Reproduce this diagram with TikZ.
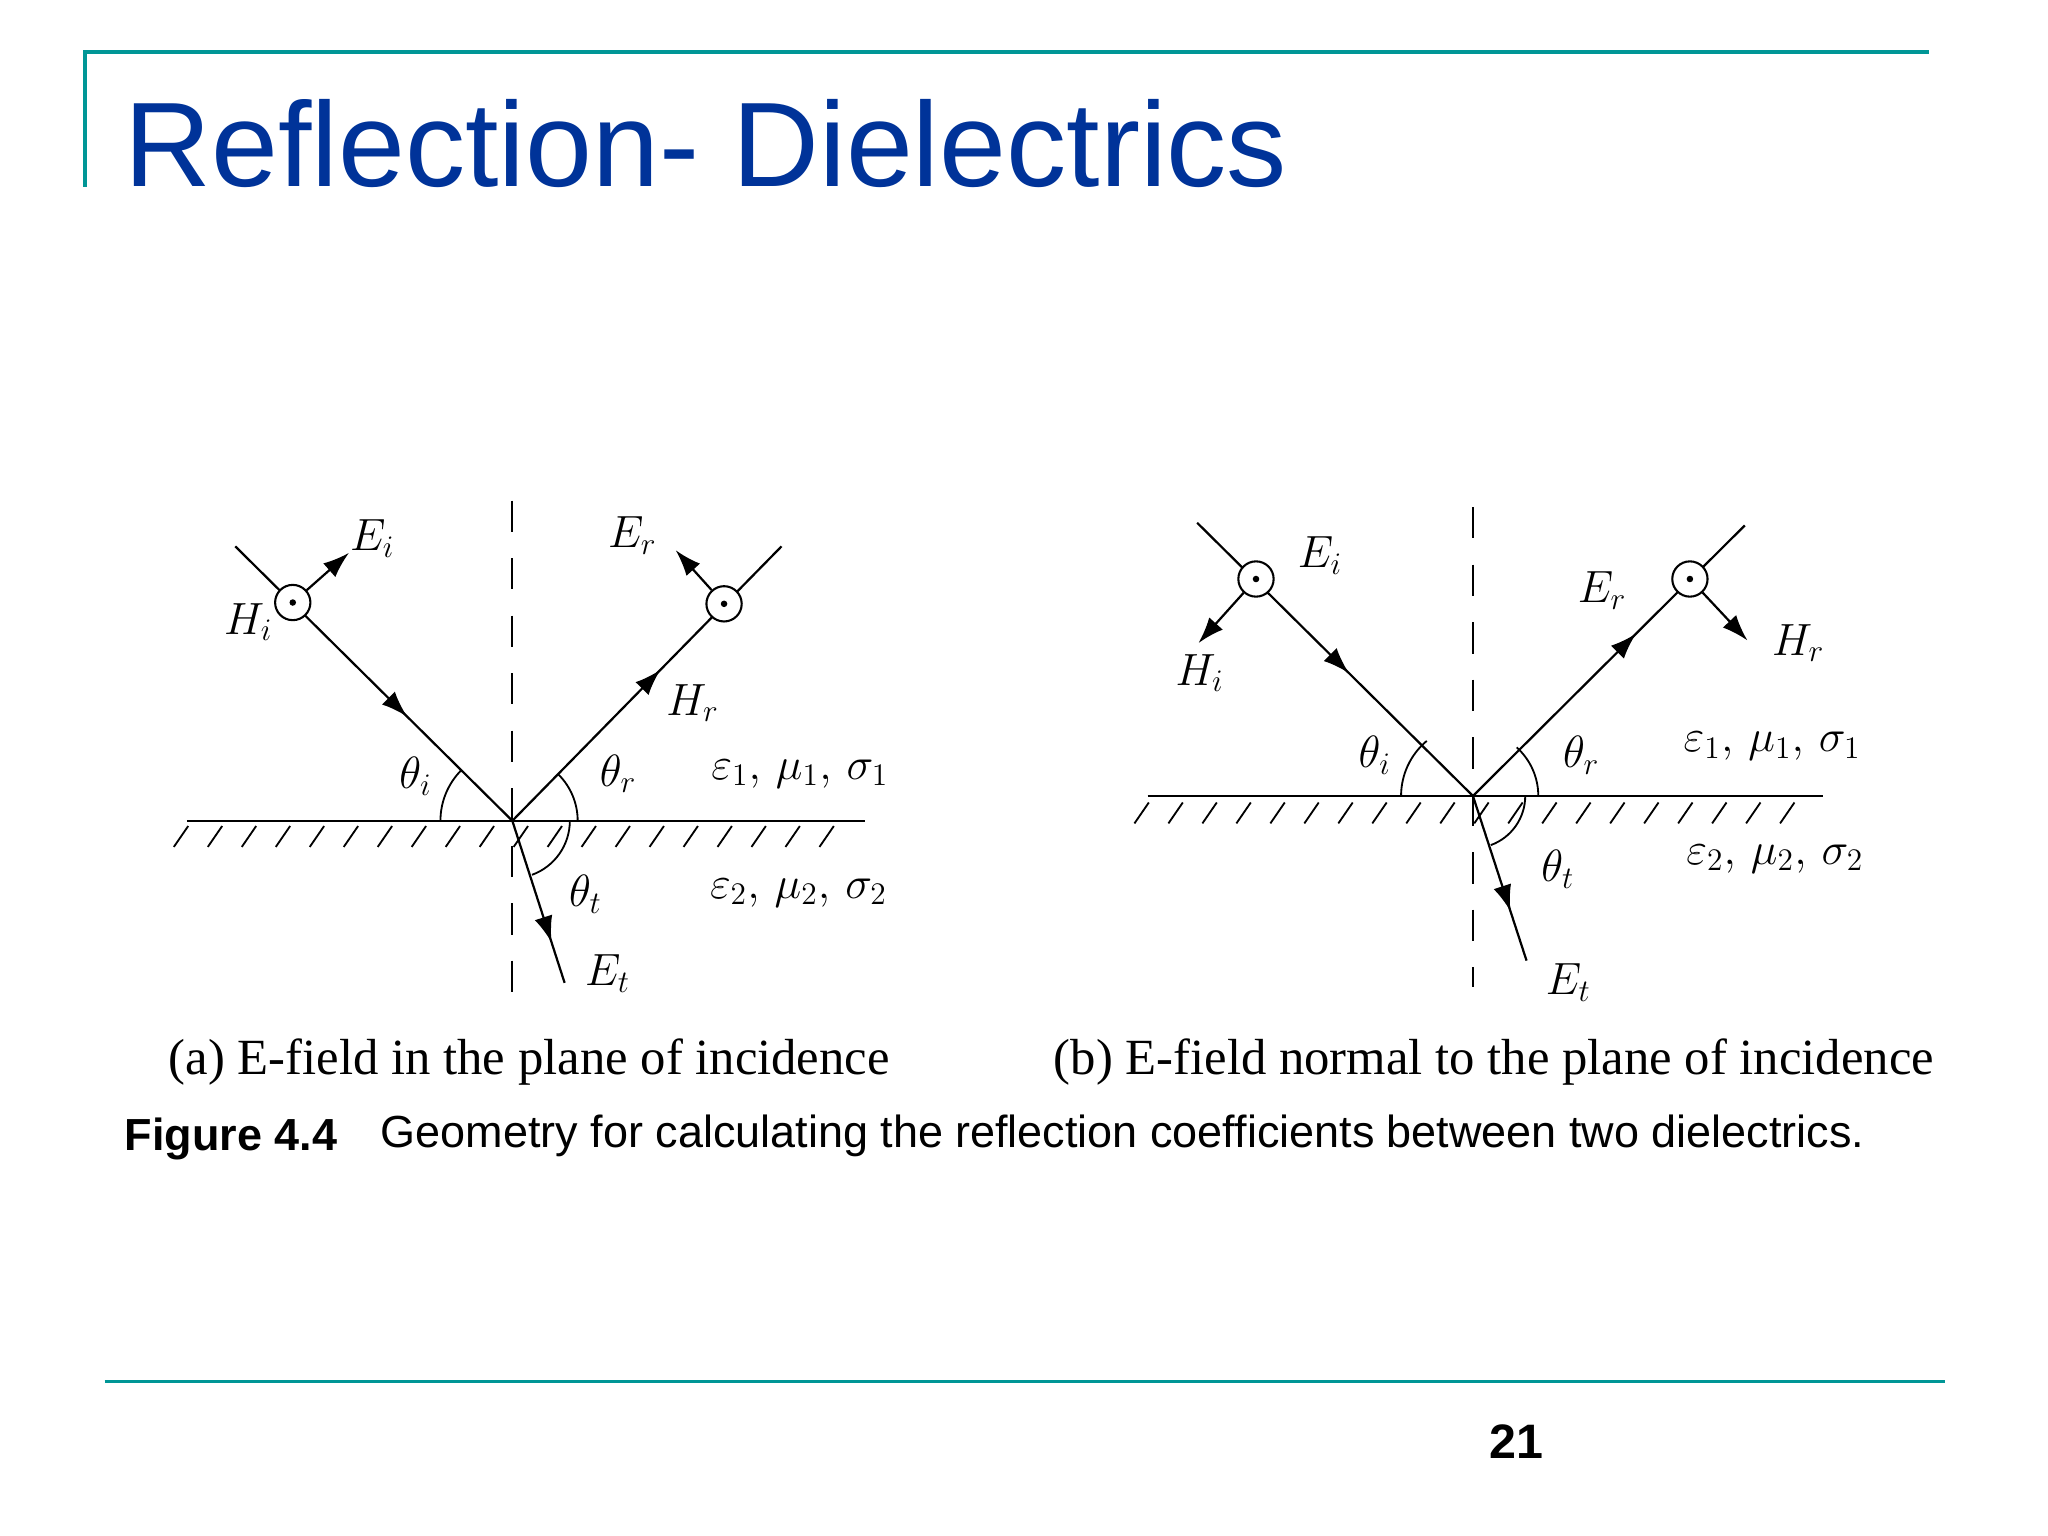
\documentclass[tikz,border=0pt]{standalone}
\usepackage{fontspec}
\setmainfont{Liberation Serif}
\setsansfont{Liberation Sans}
\usetikzlibrary{arrows.meta,decorations.markings}
\definecolor{teal1}{RGB}{0,150,150}
\definecolor{titleblue}{RGB}{0,51,153}
\tikzset{
  lab/.style={font=\fontsize{17.5}{20}\selectfont},
  ray/.style={line width=0.85pt},
  midarr/.style={postaction={decorate},decoration={markings,mark=at position #1 with {\arrow{Latex[length=10pt,width=7pt]}}}},
  fieldarr/.style={line width=0.85pt,-{Latex[length=10pt,width=7pt]}},
  dotc/.style={circle,draw,line width=0.8pt,minimum size=13.5pt,inner sep=0pt,fill=white},
  hatch/.style={line width=0.7pt},
  anglearc/.style={line width=0.7pt},
  normal/.style={dash pattern=on 12pt off 10pt,line width=0.7pt}
}
\begin{document}
\begin{tikzpicture}[x=0.5pt,y=-0.5pt]
\useasboundingbox (0,0) rectangle (1567,1175);
% frame
\draw[teal1,line width=1.5pt] (65,143) -- (65,40) -- (1476,40);
\draw[teal1,line width=1.5pt] (80,1057) -- (1488,1057);
\node[anchor=base west,inner sep=0,text=titleblue,font=\sffamily\fontsize{46}{52}\selectfont] (title) at (95,143) {Reflection- Dielectrics};
\node[anchor=base,inner sep=0,font=\sffamily\bfseries\fontsize{18.5}{22}\selectfont] (pg) at (1160,1116) {21};
\node[anchor=base,inner sep=0,font=\fontsize{19.4}{22}\selectfont] (capa) at (405,822) {(a) E-field in the plane of incidence};
\node[anchor=base,inner sep=0,font=\fontsize{19.4}{22}\selectfont] (capb) at (1143,822) {(b) E-field normal to the plane of incidence};
\node[anchor=base west,inner sep=0,font=\sffamily\bfseries\fontsize{17.2}{20}\selectfont] (figl) at (95,880) {Figure 4.4};
\node[anchor=base west,inner sep=0,font=\sffamily\fontsize{17.2}{20}\selectfont] (figt) at (291,878) {Geometry for calculating the reflection coefficients between two dielectrics.};

% ===== left diagram =====
\coordinate (OA) at (392,628);
\draw[line width=0.85pt] (143,628) -- (662,628);
\foreach \x in {133,159,...,640} \draw[hatch] (\x,648) -- (\x+11,632);
\draw[normal] (392,383) -- (392,770);
\coordinate (IA) at (180,418);
\coordinate (RA) at (598,418);
\coordinate (TA) at (432,752);
\draw[ray,midarr=0.62] (IA) -- (OA);
\draw[ray,midarr=0.55] (OA) -- (RA);
\draw[ray,midarr=0.75] (OA) -- (TA);
\node[dotc] (ca1) at (224,461) {};
\fill (ca1) circle (2.5);
\node[dotc] (ca2) at (554,462) {};
\fill (ca2) circle (2.5);
\coordinate (EiA) at (267,423);
\coordinate (ErA) at (517,421);
\draw[fieldarr] (ca1) -- (EiA);
\draw[fieldarr] (ca2) -- (ErA);
\draw[anglearc] ([shift={(180:55)}]OA) arc[start angle=180,end angle=225,radius=55];
\draw[anglearc] ([shift={(0:50)}]OA) arc[start angle=0,end angle=-45,radius=50];
\draw[anglearc] ([shift={(0:44)}]OA) arc[start angle=0,end angle=70,radius=44];
\node[lab] (tEi) at (285,412) {$E_i$};
\node[lab] (tHi) at (190,476) {$H_i$};
\node[lab] (tEr) at (484,410) {$E_r$};
\node[lab] (tHr) at (530,538) {$H_r$};
\node[lab] (tthi) at (318,594) {$\theta_i$};
\node[lab] (tthr) at (473,592) {$\theta_r$};
\node[lab] (ttht) at (448,684) {$\theta_t$};
\node[lab] (tEt) at (465,745) {$E_t$};
\node[lab] (eps1a) at (612,592) {$\varepsilon_1,\,\mu_1,\,\sigma_1$};
\node[lab] (eps2a) at (611,683) {$\varepsilon_2,\,\mu_2,\,\sigma_2$};

% ===== right diagram =====
\coordinate (OB) at (1127,609);
\draw[line width=0.85pt] (878,609) -- (1395,609);
\foreach \x in {868,894,...,1370} \draw[hatch] (\x,630) -- (\x+11,614);
\draw[normal] (1127,388) -- (1127,755);
\coordinate (IB) at (916,400);
\coordinate (RB) at (1335,402);
\coordinate (TB) at (1168,735);
\draw[ray,midarr=0.55] (IB) -- (OB);
\draw[ray,midarr=0.6] (OB) -- (RB);
\draw[ray,midarr=0.7] (OB) -- (TB);
\node[dotc] (cb1) at (961,443) {};
\fill (cb1) circle (2.5);
\node[dotc] (cb2) at (1293,443) {};
\fill (cb2) circle (2.5);
\coordinate (HiB) at (917,492);
\coordinate (HrB) at (1337,490);
\draw[fieldarr] (cb1) -- (HiB);
\draw[fieldarr] (cb2) -- (HrB);
\draw[anglearc] ([shift={(180:55)}]OB) arc[start angle=180,end angle=230,radius=55];
\draw[anglearc] ([shift={(0:50)}]OB) arc[start angle=0,end angle=-48,radius=50];
\draw[anglearc] ([shift={(0:40)}]OB) arc[start angle=0,end angle=70,radius=40];
\node[lab] (uEi) at (1010,425) {$E_i$};
\node[lab] (uHi) at (918,515) {$H_i$};
\node[lab] (uEr) at (1226,452) {$E_r$};
\node[lab] (uHr) at (1376,492) {$H_r$};
\node[lab] (uthi) at (1052,578) {$\theta_i$};
\node[lab] (uthr) at (1210,578) {$\theta_r$};
\node[lab] (utht) at (1192,665) {$\theta_t$};
\node[lab] (uEt) at (1200,752) {$E_t$};
\node[lab] (eps1b) at (1356,571) {$\varepsilon_1,\,\mu_1,\,\sigma_1$};
\node[lab] (eps2b) at (1358,657) {$\varepsilon_2,\,\mu_2,\,\sigma_2$};
\end{tikzpicture}
\end{document}
